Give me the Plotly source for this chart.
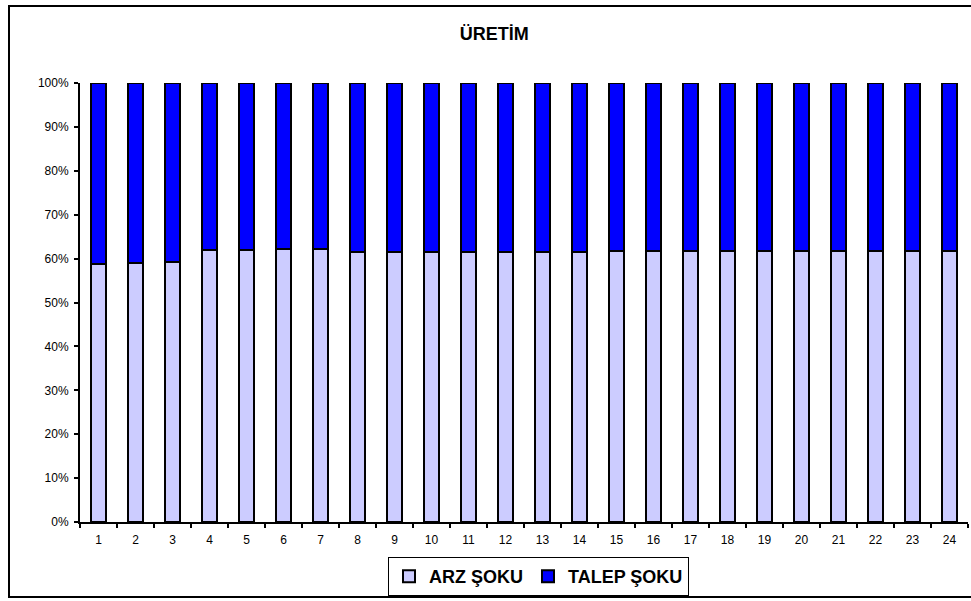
import plotly.graph_objects as go

# Period numbers on the x axis
periods = [str(i) for i in range(1, 25)]

# Share of supply shock in output variance decomposition (%)
arz_soku = [58.7, 58.9, 59.3, 61.9, 61.9, 62.1, 62.2, 61.6, 61.6, 61.6, 61.6, 61.6,
            61.6, 61.6, 61.7, 61.7, 61.8, 61.8, 61.8, 61.8, 61.8, 61.8, 61.8, 61.8]
# Share of demand shock (%)
talep_soku = [round(100 - v, 1) for v in arz_soku]

fig = go.Figure()
fig.add_trace(go.Bar(
    x=periods, y=arz_soku, name="ARZ ŞOKU",
    marker=dict(color="#CCCCFF", line=dict(color="black", width=2)),
    width=0.38,
))
fig.add_trace(go.Bar(
    x=periods, y=talep_soku, name="TALEP ŞOKU",
    marker=dict(color="#0000FF", line=dict(color="black", width=2)),
    width=0.38,
))

font_family = "Liberation Sans, Arial, sans-serif"

# plot area: 888 x 439 px
pw, ph = 888, 439

fig.update_layout(
    width=971, height=601,
    barmode="stack",
    paper_bgcolor="white", plot_bgcolor="white",
    margin=dict(l=80, r=3, t=83, b=79, autoexpand=False),
    font=dict(family=font_family, size=12, color="black"),
    title=dict(text="<b>ÜRETİM</b>", x=0.509, xanchor="center",
               y=0.944, yanchor="middle", font=dict(size=18)),
    showlegend=True,
    legend=dict(
        orientation="h", x=(388 - 80) / pw, xanchor="left",
        y=-(557 - 522) / ph, yanchor="top",
        bordercolor="black", borderwidth=1,
        font=dict(size=18, family=font_family, weight="bold"),
        traceorder="normal",
    ),
    xaxis=dict(
        type="category", tickson="boundaries",
        showline=True, linecolor="black", linewidth=2,
        ticks="outside", ticklen=4, tickwidth=2, tickcolor="black",
        showgrid=False, tickfont=dict(size=12), ticklabelstandoff=6,
    ),
    yaxis=dict(
        range=[0, 100], dtick=10, ticksuffix="%",
        showline=True, linecolor="black", linewidth=2,
        ticks="outside", ticklen=4, tickwidth=2, tickcolor="black",
        showgrid=False, zeroline=False, tickfont=dict(size=12),
        ticklabelstandoff=3,
    ),
    shapes=[dict(
        type="rect", xref="paper", yref="paper",
        x0=-71 / pw, x1=1.02, y0=-(597 - 522) / ph, y1=(522 - 6) / ph,
        line=dict(color="black", width=2), layer="below",
    )],
)

fig.write_html("out.html")
